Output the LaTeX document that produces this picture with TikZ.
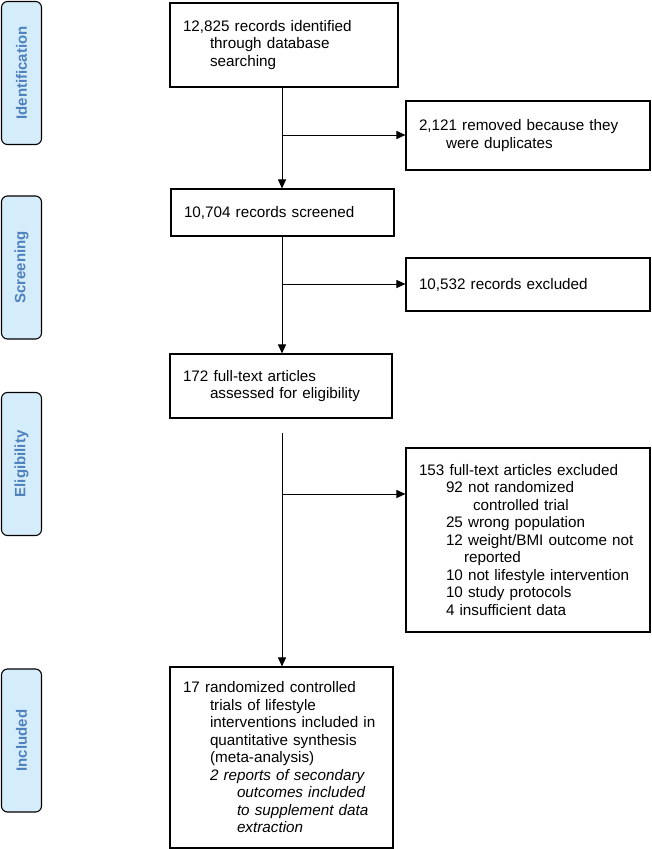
\documentclass[tikz,border=0pt]{standalone}
\usepackage{fontspec}
\setmainfont{Liberation Sans}
\usetikzlibrary{positioning, arrows.meta, calc}
\definecolor{phasefill}{HTML}{D5EDFB}
\definecolor{phasetext}{HTML}{4F81BD}

\begin{document}
\begin{tikzpicture}[
    x=1pt, y=1pt,
    >={Triangle[length=9pt,width=8pt]},
    box/.style={draw, line width=1.1pt, align=left, inner xsep=13pt, inner ysep=0pt,
        font=\fontsize{15.25}{17.5}\selectfont},
    phase/.style={draw, line width=1.1pt, rounded corners=6pt, fill=phasefill,
        minimum width=143pt, minimum height=40pt, rotate=90, text=phasetext,
        font=\fontsize{15}{18}\selectfont\bfseries},
    link/.style={line width=1pt}
]
    % Picture frame
    \useasboundingbox (0,0) rectangle (651,-849);
    % Indents of the wrapped lines
    \def\inA{\hspace*{27pt}}
    \def\inB{\hspace*{54pt}}
    \def\inC{\hspace*{45pt}}

    % Phases on the left
    \node[phase] (identphase) at (21.5,-73) {Identification};
    \node[phase] (screenphase) at (21.5,-267.5) {Screening};
    \node[phase] (eligphase) at (21.5,-464) {Eligibility};
    \node[phase] (inclphase) at (21.5,-740.5) {Included};

    % Main column
    \node[box, minimum width=228pt, minimum height=84pt, text width=202pt] (ident) at (284,-45)
        {12,825 records identified\\ \inA through database\\ \inA searching};
    \node[box, minimum width=223pt, minimum height=47pt, text width=197pt] (screen) at (282.5,-212.5)
        {10,704 records screened};
    \node[box, minimum width=222pt, minimum height=64pt, text width=196pt] (full) at (281,-386)
        {172 full-text articles\\ \inA assessed for eligibility};
    \node[box, minimum width=223pt, minimum height=181pt, text width=197pt] (incl) at (281.5,-757.5)
        {17 randomized controlled\\ \inA trials of lifestyle\\ \inA interventions included in\\
         \inA quantitative synthesis\\ \inA (meta-analysis)\\
         \inA\textit{2 reports of secondary}\\ \inB\textit{outcomes included}\\
         \inB\textit{to supplement data}\\ \inB\textit{extraction}};

    % Exclusions on the right
    \node[box, minimum width=244pt, minimum height=69pt, text width=218pt] (dup) at (528,-135.5)
        {2,121 removed because they\\ \inA were duplicates};
    \node[box, minimum width=244pt, minimum height=53pt, text width=218pt] (excl) at (528,-284.5)
        {10,532 records excluded\\[3pt]};
    \node[box, minimum width=244pt, minimum height=184pt, text width=218pt] (fullexcl) at (528,-540)
        {153 full-text articles excluded\\ \inA 92 not randomized\\ \inB controlled trial\\
         \inA 25 wrong population\\ \inA 12 weight/BMI outcome not\\ \inC reported\\
         \inA 10 not lifestyle intervention\\ \inA 10 study protocols\\ \inA 4 insufficient data};

    % Turning points on the column
    \coordinate (col) at (282,0);
    \coordinate (dupturn) at (282,-135);
    \coordinate (exclturn) at (282,-284);
    \coordinate (fullgap) at (282,-433);
    \coordinate (fullturn) at (282,-494);

    % Connectors
    \draw[link,->] (ident.south -| col) -- (screen.north -| col);
    \draw[link,->] (dupturn) -- (dupturn -| dup.west);
    \draw[link,->] (screen.south -| col) -- (full.north -| col);
    \draw[link,->] (exclturn) -- (exclturn -| excl.west);
    \draw[link,->] (fullgap) -- (incl.north -| col);
    \draw[link,->] (fullturn) -- (fullturn -| fullexcl.west);
\end{tikzpicture}
\end{document}
